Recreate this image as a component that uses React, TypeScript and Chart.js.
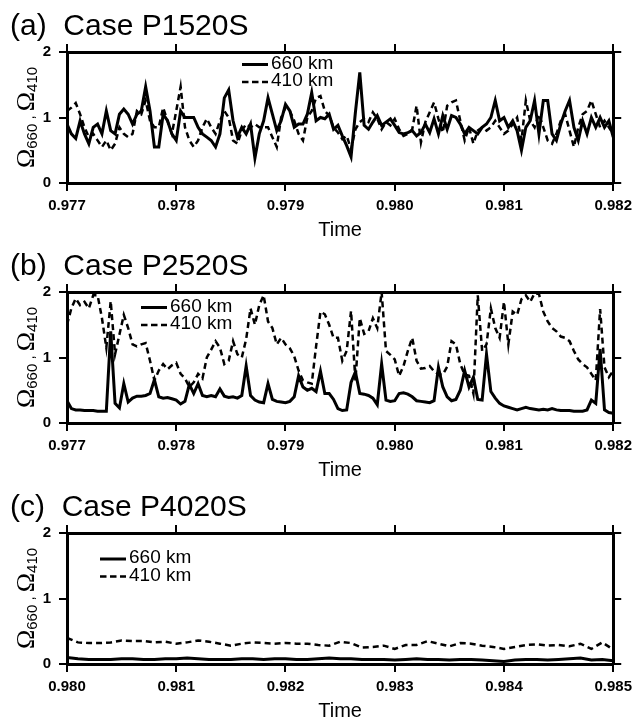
import React, { useEffect, useRef } from 'react';
import { Chart, registerables } from 'chart.js';

Chart.register(...registerables);

// ---------- data ----------
const TICKS_AB = [0.977, 0.978, 0.979, 0.98, 0.981, 0.982];
const TICKS_C = [0.98, 0.981, 0.982, 0.983, 0.984, 0.985];
const Y_TICKS = [0, 1, 2];
const SERIES_LABELS = ['660 km', '410 km'];
const TITLES = ['(a)  Case P1520S', '(b)  Case P2520S', '(c)  Case P4020S'];

const START_AB = 0.977;
const STEP_AB = 0.00004;
const START_C = 0.98;
const STEP_C = 0.0001;

const A660 = [
  0.9, 0.75, 0.68, 0.95, 0.75, 0.6, 0.85, 0.9, 0.75, 1.1,
  0.8, 0.75, 1.05, 1.13, 1.05, 0.9, 1.05, 1.1, 1.47, 1.1,
  0.55, 0.55, 1.05, 0.95, 0.75, 0.65, 1.1, 1.0, 1.0, 1.0,
  0.85, 0.75, 0.7, 0.65, 0.55, 0.75, 1.3, 1.42, 0.95, 0.7,
  0.85, 0.75, 0.9, 0.38, 0.75, 0.95, 1.3, 1.05, 0.8, 0.95,
  1.2, 1.1, 0.85, 0.9, 0.9, 1.05, 1.38, 0.95, 1.0, 0.98,
  1.05, 0.82, 0.88, 0.72, 0.57, 0.4, 1.08, 1.69, 0.88, 0.82,
  0.93, 1.03, 0.88, 0.93, 0.98, 0.88, 0.77, 0.75, 0.77, 0.8,
  0.72, 0.77, 0.9, 0.77, 0.98, 0.75, 1.03, 0.82, 1.03, 1.0,
  0.9, 0.75, 0.85, 0.8, 0.75, 0.85, 0.9, 1.0, 1.26, 0.95,
  1.0, 0.85, 0.95, 0.8, 0.5, 0.85, 0.95, 1.26, 0.75, 1.26,
  1.26, 0.75, 0.65, 0.9, 1.1, 1.26, 0.85, 0.65, 0.95, 0.75,
  1.0, 0.85, 1.0, 0.85, 0.95, 0.7,
];

const A410 = [
  1.1, 1.15, 1.22, 1.05, 0.85, 0.7, 0.75, 0.65, 0.55, 0.65,
  0.5, 0.6, 0.85, 0.75, 0.7, 0.75, 1.1, 1.05, 1.26, 0.95,
  0.85, 0.85, 1.15, 0.95, 0.75, 1.1, 1.47, 0.85, 0.65, 0.55,
  0.65, 0.85, 0.98, 0.85, 0.75, 0.95, 1.1, 1.0, 0.65, 0.6,
  0.8, 0.9, 0.85, 0.9, 0.85, 0.85, 0.85, 0.7, 0.55, 1.0,
  1.15, 1.1, 0.95, 0.75, 0.65, 1.0, 1.1, 1.3, 1.33, 1.1,
  1.03, 0.85, 0.77, 0.67, 0.72, 0.52, 0.82, 0.93, 0.98, 0.93,
  1.08, 0.98, 0.82, 0.93, 0.88, 0.98, 0.82, 0.72, 0.75, 0.82,
  1.18, 0.62, 0.93, 1.08, 1.23, 0.98, 0.77, 1.18, 1.23, 1.26,
  0.95, 0.65, 0.85, 0.6, 0.8, 0.85, 0.8, 0.85, 0.95, 0.85,
  0.75, 0.8, 0.9, 1.0, 0.65, 1.26, 0.95, 0.85, 1.05, 0.85,
  0.65, 0.6, 0.75, 0.95, 1.05, 0.8, 0.55, 0.85, 1.05, 1.1,
  1.26, 1.05, 0.85, 0.95, 0.85, 0.75,
];

const B660 = [
  0.34, 0.22, 0.2, 0.2, 0.19, 0.19, 0.19, 0.18, 0.18, 0.18,
  1.4, 0.3, 0.23, 0.6, 0.32, 0.38, 0.41, 0.41, 0.42, 0.45,
  0.66, 0.4, 0.38, 0.39, 0.37, 0.35, 0.29, 0.33, 0.59, 0.45,
  0.6, 0.42, 0.4, 0.42, 0.4, 0.52, 0.41, 0.39, 0.4, 0.38,
  0.42, 0.87, 0.42, 0.35, 0.32, 0.31, 0.6, 0.36, 0.33, 0.32,
  0.31, 0.33, 0.4, 0.72, 0.55, 0.5, 0.53, 0.48, 0.79, 0.45,
  0.45, 0.36, 0.22, 0.19, 0.2, 0.62, 0.78, 0.45, 0.44, 0.42,
  0.38, 0.28, 0.9, 0.35, 0.33, 0.34, 0.45, 0.46, 0.44, 0.4,
  0.34, 0.33, 0.32, 0.31, 0.34, 0.85, 0.55, 0.4, 0.34, 0.36,
  0.5, 0.8, 0.55, 0.7, 0.36, 0.35, 1.05, 0.48, 0.38, 0.3,
  0.26, 0.24, 0.22, 0.2, 0.22, 0.24, 0.22, 0.21, 0.2, 0.21,
  0.2, 0.22, 0.2, 0.19, 0.19, 0.19, 0.18, 0.18, 0.18, 0.2,
  0.35, 0.3, 1.13, 0.2, 0.16, 0.15,
];

const B410 = [
  1.5, 1.75, 1.9, 1.8, 1.85, 1.75, 1.95, 1.95, 1.6, 1.15,
  1.86, 1.05, 1.35, 1.65, 1.45, 1.2, 1.17, 1.2, 1.22, 0.95,
  0.65, 0.8, 0.9, 0.82, 0.88, 0.92, 0.75, 0.68, 0.55, 0.62,
  0.75, 0.68, 1.0, 1.12, 1.25, 1.15, 0.9, 0.95, 1.25, 1.05,
  1.0, 1.28, 1.75, 1.5, 1.8, 1.95, 1.55, 1.45, 1.2, 1.3,
  1.2, 1.14, 1.02, 0.8, 0.65, 0.62, 0.6, 1.17, 1.7, 1.66,
  1.5, 1.3, 1.3, 0.95, 1.1, 1.71, 0.65, 1.6, 1.36, 1.4,
  1.6, 1.45, 2.0, 1.1, 1.04, 0.97, 0.72, 0.87, 1.1, 1.3,
  0.95, 0.83, 0.84, 0.87, 0.79, 0.74, 0.74, 0.86, 1.25, 1.2,
  0.9, 0.74, 0.72, 0.45, 1.95, 1.1, 1.2, 1.75, 1.45, 1.3,
  1.85, 1.2, 1.7, 1.65, 1.89, 1.95, 1.85, 1.98, 1.97, 1.7,
  1.55, 1.45, 1.4, 1.32, 1.3, 1.25, 1.1, 0.97, 0.9, 0.85,
  0.75, 0.65, 1.74, 0.85, 0.7, 0.8,
];

const C660 = [
  0.1, 0.08, 0.07, 0.07, 0.07, 0.08, 0.08, 0.07, 0.07, 0.08,
  0.08, 0.09, 0.08, 0.07, 0.07, 0.07, 0.08, 0.08, 0.07, 0.08,
  0.08, 0.07, 0.07, 0.08, 0.09, 0.08, 0.08, 0.07, 0.07, 0.07,
  0.06, 0.07, 0.08, 0.07, 0.07, 0.06, 0.07, 0.07, 0.06, 0.05,
  0.04, 0.06, 0.07, 0.07, 0.06, 0.07, 0.08, 0.09, 0.06, 0.07,
  0.05,
];

const C410 = [
  0.4, 0.33, 0.32, 0.32, 0.33, 0.36, 0.35, 0.35, 0.33, 0.34,
  0.31, 0.33, 0.36, 0.34, 0.31, 0.28, 0.31, 0.33, 0.32, 0.31,
  0.32, 0.31, 0.31, 0.29, 0.28, 0.34, 0.32, 0.25, 0.26, 0.28,
  0.23, 0.29, 0.29, 0.35, 0.31, 0.27, 0.32, 0.31, 0.28, 0.26,
  0.23, 0.26, 0.29, 0.3, 0.28, 0.29, 0.27, 0.31, 0.23, 0.33,
  0.22,
];

// ---------- layout / style (not data) ----------
const SANS = '"Liberation Sans", Arial, Helvetica, sans-serif';
const SERIF = '"Liberation Serif", "Times New Roman", serif';
const CANVAS_W = 638;
const CANVAS_H = 240;

const PANELS = [
  { title: TITLES[0], s660: A660, s410: A410, start: START_AB, step: STEP_AB, ticks: TICKS_AB, top: 0, legend: { x: 242, y: 64.5 } },
  { title: TITLES[1], s660: B660, s410: B410, start: START_AB, step: STEP_AB, ticks: TICKS_AB, top: 240, legend: { x: 141, y: 67.5 } },
  { title: TITLES[2], s660: C660, s410: C410, start: START_C, step: STEP_C, ticks: TICKS_C, top: 481, legend: { x: 100, y: 78 } },
];

const decorPlugin = {
  id: 'decor',
  afterDraw(chart: any, _args: any, opts: any) {
    const ctx = chart.ctx as CanvasRenderingContext2D;
    const ca = chart.chartArea;
    // rotated y-axis label with subscripts
    const parts = [
      { t: 'Ω', f: `26px ${SERIF}`, dy: 0 },
      { t: '660', f: `15px ${SANS}`, dy: 3 },
      { t: ' , ', f: `15px ${SANS}`, dy: 0 },
      { t: 'Ω', f: `26px ${SERIF}`, dy: 0 },
      { t: '410', f: `15px ${SANS}`, dy: 3 },
    ];
    ctx.save();
    ctx.fillStyle = '#000';
    ctx.textBaseline = 'alphabetic';
    ctx.textAlign = 'left';
    let total = 0;
    const widths: number[] = [];
    for (const p of parts) {
      ctx.font = p.f;
      const w = ctx.measureText(p.t).width;
      widths.push(w);
      total += w;
    }
    ctx.translate(34, (ca.top + ca.bottom) / 2);
    ctx.rotate(-Math.PI / 2);
    let x = -total / 2;
    parts.forEach((p, i) => {
      ctx.font = p.f;
      ctx.fillText(p.t, x, p.dy);
      x += widths[i];
    });
    ctx.restore();

    // legend inside plot
    const lg = opts.legend;
    ctx.save();
    ctx.strokeStyle = '#000';
    ctx.fillStyle = '#000';
    ctx.font = `19px ${SANS}`;
    ctx.textBaseline = 'middle';
    ctx.textAlign = 'left';
    chart.data.datasets.forEach((ds: any, i: number) => {
      const y = lg.y + i * 17.5;
      ctx.lineWidth = i === 0 ? 3 : 2.5;
      ctx.setLineDash(i === 0 ? [] : [6.5, 3.5]);
      ctx.beginPath();
      ctx.moveTo(lg.x, y);
      ctx.lineTo(lg.x + 26, y);
      ctx.stroke();
      ctx.setLineDash([]);
      ctx.fillText(ds.label, lg.x + 29, y - 1);
    });
    ctx.restore();
  },
};

function makeAxis(ticks: number[], showLabels: boolean, fmt: (v: number) => string, fit: (s: any) => void, position: string, extra: any = {}) {
  return {
    type: 'linear',
    position,
    min: ticks[0],
    max: ticks[ticks.length - 1],
    afterBuildTicks: (s: any) => {
      s.ticks = ticks.map((v) => ({ value: v }));
    },
    afterFit: fit,
    ticks: {
      display: showLabels,
      autoSkip: false,
      maxRotation: 0,
      color: '#000',
      font: { size: 15, family: SANS, weight: 'bold' },
      callback: (v: any) => fmt(Number(v)),
      ...(extra.ticks || {}),
    },
    grid: {
      drawOnChartArea: false,
      drawTicks: true,
      tickLength: 8,
      tickWidth: 2,
      tickColor: '#000',
      color: '#000',
      lineWidth: 2,
    },
    border: { display: true, width: 3, color: '#000' },
    title: extra.title || { display: false },
  };
}

function Panel({ p }: { p: any }) {
  const ref = useRef<HTMLCanvasElement | null>(null);
  useEffect(() => {
    if (!ref.current) return;
    const toPts = (arr: number[]) => arr.map((v, i) => ({ x: p.start + i * p.step, y: v }));
    const fx = (v: number) => v.toFixed(3);
    const fy = (v: number) => String(v);
    const chart = new Chart(ref.current, {
      type: 'line',
      data: {
        datasets: [
          {
            label: SERIES_LABELS[0],
            data: toPts(p.s660),
            borderColor: '#000',
            borderWidth: 3,
            pointRadius: 0,
            tension: 0,
            fill: false,
          },
          {
            label: SERIES_LABELS[1],
            data: toPts(p.s410),
            borderColor: '#000',
            borderWidth: 2.5,
            borderDash: [6, 4],
            pointRadius: 0,
            tension: 0,
            fill: false,
          },
        ],
      },
      options: {
        animation: false,
        responsive: false,
        devicePixelRatio: 1,
        parsing: false,
        normalized: true,
        layout: { padding: { left: 10, top: 0, right: 0, bottom: 0 } },
        scales: {
          x: makeAxis(p.ticks, true, fx, (s: any) => { s.height = 57; }, 'bottom', {
            ticks: { padding: 6 },
            title: {
              display: true,
              text: 'Time',
              color: '#000',
              font: { size: 20, family: SANS, lineHeight: 1 },
              padding: { top: 0, bottom: 0 },
            },
          }),
          x2: makeAxis(p.ticks, false, fx, (s: any) => { s.height = 10; }, 'top'),
          y: makeAxis(Y_TICKS, true, fy, (s: any) => { s.width = 57; }, 'left', { ticks: { padding: 8 } }),
          y2: makeAxis(Y_TICKS, false, fy, (s: any) => { s.width = 23; }, 'right'),
        },
        plugins: {
          legend: { display: false },
          tooltip: { enabled: false },
          title: {
            display: true,
            text: p.title,
            align: 'start',
            color: '#000',
            font: { size: 30, family: SANS, weight: 'normal', lineHeight: 1 },
            padding: { top: 12, bottom: 0 },
          },
          decor: { legend: p.legend },
        } as any,
      } as any,
      plugins: [decorPlugin],
    } as any);
    return () => chart.destroy();
  }, []);
  return (
    <canvas
      ref={ref}
      width={CANVAS_W}
      height={CANVAS_H}
      style={{ position: 'absolute', left: 0, top: p.top, width: CANVAS_W, height: CANVAS_H, display: 'block' }}
    />
  );
}

export default function App() {
  return (
    <div style={{ position: 'absolute', left: 0, top: 0, width: 638, height: 722, background: '#fff', overflow: 'hidden' }}>
      {PANELS.map((p, i) => (
        <Panel key={i} p={p} />
      ))}
    </div>
  );
}
